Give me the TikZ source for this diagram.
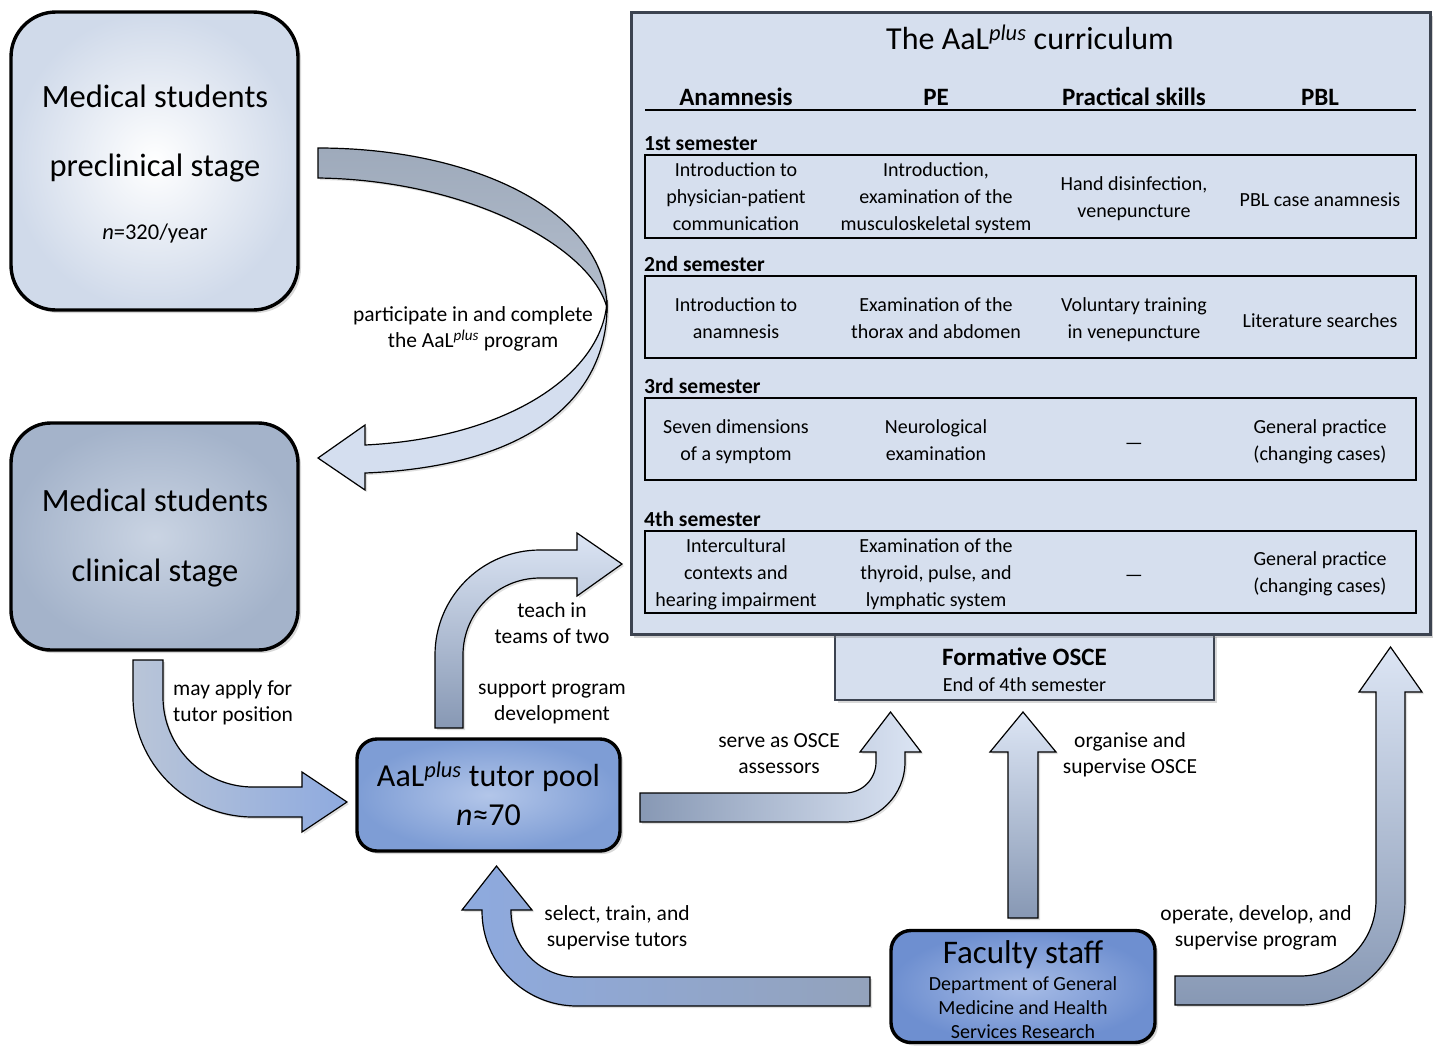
\documentclass[tikz,border=0pt]{standalone}
\usepackage{fontspec}
\setmainfont{Carlito}
\usetikzlibrary{shadows}
\definecolor{pale}{HTML}{D6DFEE}
\definecolor{frame}{HTML}{3C4350}
\definecolor{lightarr}{HTML}{DCE5F4}
\definecolor{darkarr}{HTML}{8798B4}
\definecolor{bluearr}{HTML}{8EAADF}
\definecolor{grayblue}{HTML}{B9C5D8}
\definecolor{preout}{HTML}{D0DAEA}
\definecolor{cliin}{HTML}{CAD4E3}
\definecolor{cliout}{HTML}{A4B3CA}
\definecolor{tutin}{HTML}{B3C6E9}
\definecolor{tutout}{HTML}{7E9DD5}
\definecolor{facin}{HTML}{A7BCE6}
\definecolor{facout}{HTML}{6E8FD0}
\definecolor{ribdark}{HTML}{9EAABB}
\definecolor{ribdark2}{HTML}{B4BECD}
\definecolor{riblight}{HTML}{D4DEEF}
\newcommand{\plusup}{\textsuperscript{\itshape plus}}
\begin{document}
\begin{tikzpicture}[x=1pt,y=-1pt,
  rbox/.style={draw=black, line width=3.4pt, drop shadow={opacity=0.3,shadow xshift=3pt,shadow yshift=-3pt}},
  txt/.style={inner sep=0pt, align=center, yshift=-3pt, execute at begin node=\strut, execute at end node=\strut},
  big/.style={txt, font=\fontsize{32.5}{36}\selectfont},
  lbl/.style={txt, font=\fontsize{21.5}{26}\selectfont},
  cell/.style={txt, font=\fontsize{20}{27}\selectfont},
  head/.style={txt, font=\fontsize{25}{28}\selectfont\bfseries},
  sem/.style={txt, font=\fontsize{21.5}{24}\selectfont\bfseries, anchor=west},
  rowbox/.style={draw=black, line width=1.8pt},
  arr/.style={draw=black, line width=1.2pt, drop shadow={opacity=0.25,shadow xshift=2pt,shadow yshift=-2pt}}
]
\useasboundingbox[fill=white] (0,0) rectangle (1440,1045);

% ---------- left boxes ----------
\node[rbox, rounded corners=45pt, minimum width=287pt, minimum height=298pt,
      inner color=white, outer color=preout] (pre) at (154.5,161) {};
\node[big] (pre1) at (155,97) {Medical students};
\node[big] (pre2) at (155,166) {preclinical stage};
\node[txt, font=\fontsize{22.5}{26}\selectfont] (pre3) at (155,231) {\textit{n}=320/year};

\node[rbox, rounded corners=40pt, minimum width=287pt, minimum height=227pt,
      inner color=cliin, outer color=cliout] (cli) at (154.5,536.5) {};
\node[big] (cli1) at (155,501) {Medical students};
\node[big] (cli2) at (155,571) {clinical stage};

% ---------- curriculum ----------
\node[draw=frame, line width=2.6pt, fill=pale, minimum width=379pt, minimum height=66pt,
      drop shadow={opacity=0.3,shadow xshift=3pt,shadow yshift=-3pt}] (osce) at (1024.5,667) {};
\node[head] (osce1) at (1024.5,657) {Formative OSCE};
\node[cell] (osce2) at (1024.5,683) {End of 4th semester};

\node[draw=frame, line width=3pt, fill=pale, minimum width=799pt, minimum height=622pt,
      drop shadow={opacity=0.35,shadow xshift=3pt,shadow yshift=-4pt}] (cur) at (1030.5,323) {};
\node[txt, font=\fontsize{32}{36}\selectfont] (title) at (1030,39) {The AaL\plusup{} curriculum};

\node[head] (h1) at (736,97) {Anamnesis};
\node[head] (h2) at (936,97) {PE};
\node[head] (h3) at (1134,97) {Practical skills};
\node[head] (h4) at (1320,97) {PBL};
\coordinate (rl) at (645,110);
\coordinate (rr) at (1416,110);
\draw[line width=1.6pt] (rl) -- (rr);

\node[sem] (s1) at (644,143) {1st semester};
\node[sem] (s2) at (644,264) {2nd semester};
\node[sem] (s3) at (644,386) {3rd semester};
\node[sem] (s4) at (644,519) {4th semester};

\node[rowbox, minimum width=771pt, minimum height=83pt] (r1) at (1030.5,196.5) {};
\node[rowbox, minimum width=771pt, minimum height=82pt] (r2) at (1030.5,317) {};
\node[rowbox, minimum width=771pt, minimum height=82pt] (r3) at (1030.5,439) {};
\node[rowbox, minimum width=771pt, minimum height=82pt] (r4) at (1030.5,572) {};

\node[cell] (c11) at (736,198) {Introduction to\\physician-patient\\communication};
\node[cell] (c12) at (936,198) {Introduction,\\examination of the\\musculoskeletal system};
\node[cell] (c13) at (1134,198.5) {Hand disinfection,\\venepuncture};
\node[cell] (c14) at (1320,198.5) {PBL case anamnesis};

\node[cell] (c21) at (736,319.5) {Introduction to\\anamnesis};
\node[cell] (c22) at (936,319.5) {Examination of the\\thorax and abdomen};
\node[cell] (c23) at (1134,319.5) {Voluntary training\\in venepuncture};
\node[cell] (c24) at (1320,319.5) {Literature searches};

\node[cell] (c31) at (736,441) {Seven dimensions\\of a symptom};
\node[cell] (c32) at (936,441) {Neurological\\examination};
\node[cell] (c33) at (1134,441) {\textemdash};
\node[cell] (c34) at (1320,441) {General practice\\(changing cases)};

\node[cell] (c41) at (736,574) {Intercultural\\contexts and\\hearing impairment};
\node[cell] (c42) at (936,574) {Examination of the\\thyroid, pulse, and\\lymphatic system};
\node[cell] (c43) at (1134,573.5) {\textemdash};
\node[cell] (c44) at (1320,573.5) {General practice\\(changing cases)};

% ---------- blue boxes ----------
\node[rbox, rounded corners=20pt, minimum width=263pt, minimum height=112pt,
      inner color=tutin, outer color=tutout] (tut) at (488.5,795) {};
\node[txt, font=\fontsize{32}{36}\selectfont] (tut1) at (488.5,776) {AaL\plusup{} tutor pool};
\node[txt, font=\fontsize{32}{36}\selectfont] (tut2) at (488.5,815) {\textit{n}≈70};

\node[rbox, rounded corners=20pt, minimum width=264pt, minimum height=112pt,
      inner color=facin, outer color=facout] (fac) at (1023,986.5) {};
\node[txt, font=\fontsize{33}{38}\selectfont] (fac1) at (1023,953) {Faculty staff};
\node[txt, font=\fontsize{20}{24}\selectfont] (fac2) at (1023,1008) {Department of General\\Medicine and Health\\Services Research};

% ---------- block arrows ----------
% preclinical -> clinical (twisted ribbon)
\path[arr, top color=ribdark, bottom color=ribdark2]
  (318,148) .. controls (475,148) and (606,212) .. (607,308)
  .. controls (592,248) and (470,180) .. (318,178) -- cycle;
\path[arr, fill=riblight]
  (607,300) .. controls (604,372) and (510,438) .. (365,445)
  -- (365,425) -- (318,458) -- (365,490) -- (365,473)
  .. controls (540,466) and (610,390) .. (607,300) -- cycle;

% clinical -> tutor pool
\path[arr, left color=grayblue, right color=bluearr]
  (133,660) -- (133,697) arc[start angle=180,end angle=90,radius=120]
  -- (302,817) -- (302,832) -- (347,802) -- (302,772) -- (302,787) -- (253,787)
  arc[start angle=90,end angle=180,radius=90] -- (163,660) -- cycle;

% tutor pool -> curriculum (teach)
\path[arr, bottom color=darkarr, top color=lightarr]
  (435,728) -- (435,655) arc[start angle=180,end angle=270,radius=105]
  -- (577,550) -- (577,533) -- (622,564) -- (577,596) -- (577,578) -- (540,578)
  arc[start angle=270,end angle=180,radius=77] -- (463,728) -- cycle;

% tutor pool -> OSCE (serve)
\path[arr, left color=darkarr, right color=lightarr]
  (640,822) -- (845,822) arc[start angle=90,end angle=0,radius=60]
  -- (905,752) -- (921,752) -- (890.5,712) -- (860,752) -- (876,752) -- (876,762)
  arc[start angle=0,end angle=90,radius=31] -- (640,793) -- cycle;

% faculty -> OSCE (organise)
\path[arr, top color=lightarr, bottom color=darkarr]
  (1008,918) -- (1008,752) -- (990,752) -- (1023,712) -- (1056,752) -- (1038,752)
  -- (1038,918) -- cycle;

% faculty -> tutor pool (select)
\path[arr, left color=bluearr, right color=darkarr!90!white]
  (870,1006) -- (577,1006) arc[start angle=90,end angle=180,radius=95]
  -- (482,910) -- (462,910) -- (496.5,866) -- (532,910) -- (511,910) -- (511,911)
  arc[start angle=180,end angle=90,radius=66] -- (870,977) -- cycle;

% faculty -> curriculum (operate)
\path[arr, bottom color=darkarr, top color=lightarr]
  (1175,1005) -- (1300,1005) arc[start angle=90,end angle=0,radius=105]
  -- (1405,692) -- (1422,692) -- (1390.5,647) -- (1359,692) -- (1376,692) -- (1376,900)
  arc[start angle=0,end angle=90,radius=76] -- (1175,976) -- cycle;

% ---------- labels ----------
\node[lbl] (l1) at (473,328) {participate in and complete\\the AaL\plusup{} program};
\node[lbl, align=left, anchor=west] (l2) at (173,702) {may apply for\\tutor position};
\node[lbl] (l3) at (552,624) {teach in\\teams of two};
\node[lbl] (l4) at (552,702) {support program\\development};
\node[lbl] (l5) at (779,754) {serve as OSCE\\assessors};
\node[lbl] (l6) at (1130,754) {organise and\\supervise OSCE};
\node[lbl] (l7) at (617,926.5) {select, train, and\\supervise tutors};
\node[lbl] (l8) at (1256,926.5) {operate, develop, and\\supervise program};
\end{tikzpicture}
\end{document}
